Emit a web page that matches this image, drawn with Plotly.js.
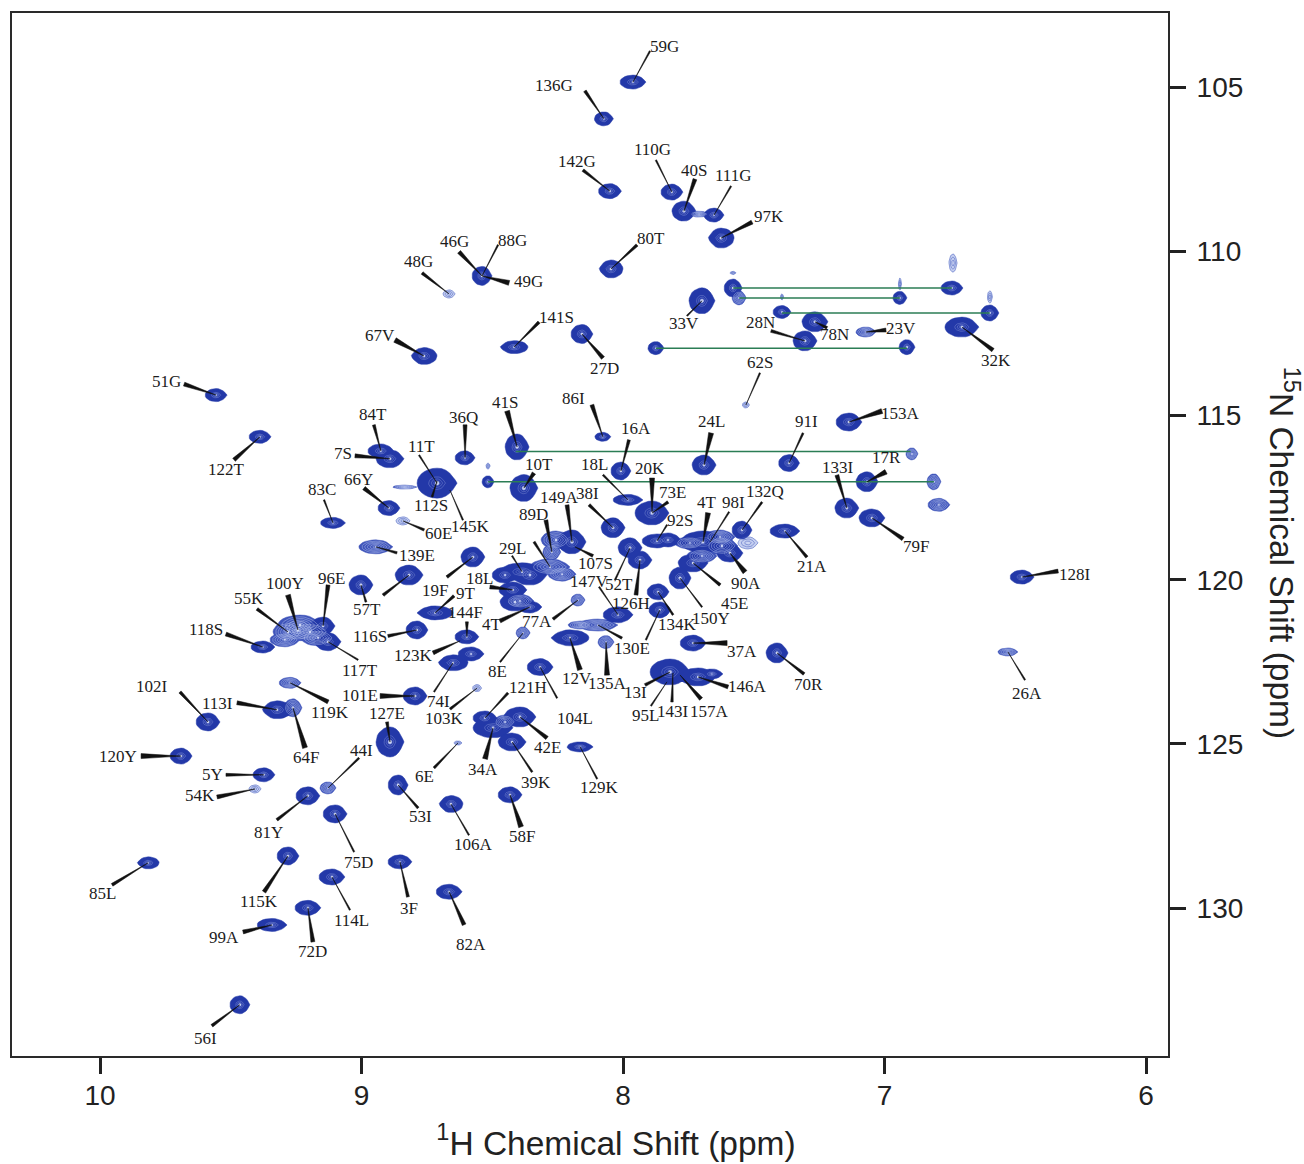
<!DOCTYPE html>
<html><head><meta charset="utf-8">
<script src="https://cdn.plot.ly/plotly-3.0.1.min.js"></script>
<style>html,body{margin:0;padding:0;background:#fff}</style></head>
<body><div id="chart" style="width:1304px;height:1164px"></div>
<script>
// Assigned residues: labels and their chemical shifts
const residue = ['59G','136G','142G','110G','40S','111G','97K','80T','46G','88G','49G','48G','33V','141S','27D','67V','28N','78N','23V','32K','62S','153A','91I','24L','16A','86I','41S','36Q','84T','7S','11T','112S','145K','10T','83C','66Y','60E','139E','19F','57T','','96E','100Y','55K','118S','117T','116S','9T','144F','123K','74I','103K','101E','127E','119K','102I','113I','64F','120Y','5Y','54K','44I','81Y','75D','85L','115K','114L','3F','99A','72D','56I','82A','53I','106A','58F','6E','34A','121H','42E','39K','104L','129K','12V','135A','130E','147V','126H','52T','77A','8E','73E','20K','18L','92S','38I','149A','89D','107S','29L','','18L','4T','4T','98I','132Q','90A','45E','150Y','134K','','37A','70R','21A','13I','95L','143I','157A','146A','133I','17R','79F','128I','26A','122T','51G'];
const shiftH = [7.962,8.073,8.050,7.813,7.767,7.652,7.625,8.046,8.539,8.539,8.539,8.665,7.698,8.417,8.157,8.761,7.304,7.266,7.071,6.704,7.530,7.136,7.365,7.690,8.008,8.077,8.405,8.604,8.926,8.891,8.711,8.711,8.662,8.379,9.109,8.895,8.841,8.945,8.574,9.002,8.818,9.147,9.243,9.281,9.377,9.128,8.788,8.719,8.597,8.623,8.650,8.558,8.795,8.891,9.273,9.587,9.323,9.262,9.690,9.373,9.407,9.128,9.205,9.101,9.816,9.281,9.113,8.853,9.342,9.205,9.465,8.665,8.860,8.658,8.432,8.631,8.497,8.528,8.394,8.424,8.317,8.164,8.203,8.065,8.096,8.019,7.935,7.973,8.172,8.382,7.889,7.889,7.981,7.870,8.038,8.195,8.272,8.184,8.386,8.279,8.421,8.356,7.694,7.667,7.545,7.591,7.732,7.782,7.866,7.859,7.732,7.411,7.381,7.820,7.832,7.809,7.782,7.713,7.144,7.067,7.048,6.474,6.528,9.388,9.556];
const shiftN = [104.85,105.97,108.17,108.20,108.78,108.90,109.60,110.54,110.75,110.75,110.75,111.30,111.51,112.92,112.52,113.19,112.73,112.15,112.46,112.31,114.68,115.20,116.45,116.51,116.69,115.65,115.96,116.29,116.08,116.32,117.06,116.99,117.27,117.21,118.27,117.82,118.21,119.00,119.31,120.16,119.86,121.41,121.53,121.59,122.05,121.89,121.53,121.01,121.74,121.86,122.53,123.30,123.54,124.94,123.14,124.33,123.96,123.90,125.37,125.94,126.37,126.34,126.58,127.13,128.62,128.41,129.05,128.59,130.51,129.99,132.94,129.50,126.25,126.83,126.55,124.97,124.51,124.21,124.18,124.94,122.66,125.09,121.77,121.90,121.38,121.07,119.40,119.03,120.62,121.62,117.97,117.94,117.57,118.82,118.42,118.85,119.16,119.00,119.76,119.61,120.31,120.83,118.85,118.85,118.49,119.19,119.49,119.95,120.37,120.92,121.93,122.23,118.52,122.81,123.11,122.84,122.90,122.96,117.82,117.02,118.12,119.92,122.20,115.65,114.38];

// Unassigned / side-chain / overlapped cross peaks
const extraH = [7.874,6.914,7.392,6.597,7.579,7.556,6.941,6.742,6.738,6.597,6.941,6.895,6.811,6.792,8.516,8.516,7.579,7.392,8.834,8.581,7.629,7.828,7.522,8.164,8.394,8.451,9.197,7.660,9.235,9.166,9.293,7.622,7.698,8.413,8.233,8.256,8.451,7.744,7.709,8.356];
const extraN = [112.95,112.92,111.85,111.88,111.12,111.42,111.42,111.12,110.36,111.39,111.00,116.17,117.02,117.72,117.02,116.54,110.66,111.39,117.18,122.26,118.70,118.79,118.88,121.38,120.65,119.86,121.59,122.87,121.38,121.77,121.83,118.97,119.28,120.68,119.83,118.79,124.33,118.88,108.87,119.86];

// Horizontal NH2 side-chain connectors
const linkN = [111.12,111.42,111.88,112.95,116.10,117.02];
const linkFrom = [7.579,7.556,7.392,7.874,8.410,8.516];
const linkTo = [6.742,6.941,6.597,6.914,6.900,6.811];

// Presentation: blob sizes (px) and tone (0 strong, 1 medium, 2 faint)
const blobW = [26,19,23,22,24,20,26,24,20,0,0,12,26,28,22,26,24,26,20,34,7,26,21,24,20,16,24,20,26,28,40,0,0,28,25,22,14,34,24,24,28,24,34,30,24,26,22,36,24,0,30,9,24,28,22,24,30,18,22,22,12,16,24,24,22,22,26,24,30,26,20,26,20,24,24,8,40,24,32,28,26,26,38,16,40,30,24,24,14,14,34,0,30,30,24,28,18,0,44,40,28,24,44,0,20,26,30,22,22,22,26,22,30,40,0,0,0,36,24,22,26,24,20,22,22];
const blobH = [14,14,15,16,20,14,20,18,19,0,0,8,26,13,19,17,20,20,10,20,6,18,17,20,18,9,26,14,14,18,30,0,0,27,11,15,8,14,20,20,20,18,22,20,12,18,18,14,14,0,16,7,18,30,11,18,18,18,16,14,8,12,18,18,12,18,16,14,13,15,18,15,20,17,16,4,20,14,20,18,17,10,16,13,12,16,18,20,12,12,24,0,11,14,20,24,16,0,18,16,16,12,22,0,18,18,18,22,16,16,16,20,14,26,0,0,0,18,20,20,18,14,8,13,13];
const blobTone = [0,0,0,0,0,0,0,0,0,0,0,2,0,0,0,0,0,0,1,0,2,0,0,0,0,0,0,0,0,0,0,0,0,0,0,0,2,1,0,0,0,0,1,1,0,0,0,0,0,0,0,2,0,0,1,0,0,1,0,0,2,1,0,0,0,0,0,0,0,0,0,0,0,0,0,2,0,0,0,0,0,0,0,1,1,0,0,0,1,1,0,0,0,0,0,0,1,0,0,1,0,0,0,0,0,0,0,0,0,0,0,0,0,0,0,0,0,0,0,0,0,0,1,0,0];
const extraW = [16,16,18,18,18,14,14,22,8,5,3,12,14,22,12,4,6,3,24,26,30,26,20,24,28,26,40,22,44,34,30,32,30,30,28,30,22,30,18,34];
const extraHt = [13,15,13,16,18,14,13,14,18,12,12,12,16,13,12,6,3,6,4,14,14,14,12,8,14,16,18,10,20,16,14,18,14,18,14,18,14,12,6,20];
const extraTone = [0,0,0,0,0,1,0,0,2,2,2,1,1,1,0,2,2,2,1,0,1,0,2,1,1,0,1,0,1,1,1,1,1,0,1,1,1,1,1,0];
const tailsLeft = ['97K','80T','67V','106A','12V','85L','9T','74I','113I','141S'];

// Presentation: label centre and leader end as pixel offsets from the peak
const labelDx = [32,-50,-33,-19,10,19,48,40,-28,30,46,-31,-18,43,23,-44,-45,20,35,34,14,52,17,7,15,-29,-12,-2,-8,-47,-16,-6,21,15,-11,-30,35,41,-38,6,0,8,-13,-39,-57,32,-47,31,-1,-47,-15,-33,-55,-3,40,-56,-60,13,-63,-51,-55,33,-39,23,-46,-29,20,9,-48,5,-34,22,22,23,12,-34,-10,43,28,24,35,19,7,1,34,-29,-9,-11,-41,-26,20,-2,-33,23,-26,-13,-18,21,-10,0,-33,-38,4,23,23,16,41,31,19,0,49,31,27,-35,-21,0,29,49,-9,19,44,53,19,-34,-50];
const labelDy = [-36,-33,-30,-43,-41,-40,-22,-30,-34,-35,6,-32,23,-30,34,-21,-18,13,-4,33,-42,-9,-42,-44,-42,-38,-45,-40,-36,-5,-37,25,36,-24,-33,-29,13,9,33,25,0,-48,-46,-33,-18,29,7,-19,-24,15,39,30,0,-28,30,-35,-6,50,0,0,7,-37,37,49,31,46,44,47,13,44,34,53,31,40,42,34,42,-31,30,41,51,41,41,41,23,-33,43,37,21,39,-21,-44,-35,-20,-34,-44,-38,17,-23,0,-11,18,-39,-39,-39,30,41,40,33,0,8,32,35,20,34,38,37,10,-41,-24,29,-3,42,33,-14];
const tipDx = [17,-19,-27,-16,11,17,31,26,-23,16,27,-27,-15,25,21,-29,-34,12,20,31,14,33,14,7,8,-11,-10,0,-7,-35,-18,-5,13,10,-9,-25,21,21,-26,5,-26,5,-10,-31,-37,30,-29,19,0,-27,-19,-27,-35,-3,38,-28,-40,12,-40,-38,-38,31,-31,19,-36,-24,18,8,-29,5,-28,15,20,18,11,-24,-8,23,27,20,17,17,10,1,24,-19,-4,-15,-25,-23,16,0,-25,10,-24,-5,-6,18,-10,-16,-23,-30,5,19,20,15,27,22,15,-14,34,27,22,-25,-16,-1,21,30,-10,19,31,36,17,-26,-32];
const tipDy = [-31,-28,-21,-32,-32,-29,-16,-24,-24,-31,7,-21,15,-25,24,-16,-10,6,-2,23,-32,-11,-30,-32,-31,-32,-36,-33,-26,-3,-28,16,30,-15,-23,-20,9,6,20,17,20,-41,-35,-23,-13,18,6,-17,-15,12,29,21,0,-20,19,-30,-7,40,0,0,8,-30,24,38,22,36,33,35,7,34,21,33,23,31,32,25,31,-25,21,30,31,32,32,33,13,-28,35,32,19,29,-11,-34,-25,-16,-23,-37,-32,9,-16,-25,-3,14,-29,-30,-28,19,22,29,23,30,0,21,26,13,24,29,24,10,-33,-10,21,-6,28,23,-11];
const tipWidth = [1.5,3,3,1.5,4,1.5,4,3,4,1.5,5,3,1.5,3,4,5,3,3,4,4,1.5,5,2,5,3,4,5,4,3,4,1.5,2,1.5,4,1.5,4,2.5,2.5,3,2,3,4,5,3,4,1.5,3,3,3,4,1.5,2.5,5,3,4,3,4,5,5,3,4,2,3,1.5,3,4,1.5,3,4,4,3,4,2.5,1.5,5,2.5,5,2.5,4,2,1.5,1.5,5,5,2.5,1.5,4,1.5,3,1.5,3,5,2,1.5,3,4,4,3,1.5,2.5,4,4,5,1.5,2,5,3,1.5,2,1.5,5,3,3,3,1.5,2.5,4,4,4,5,4,4,1.5,4,4];

const xRange = [10.3365, 5.916], yRange = [134.50, 102.747];
const plot = {l: 12, t: 13, w: 1156, h: 1043};
const pxPerH = plot.w / (xRange[0] - xRange[1]);
const pxPerN = plot.h / (yRange[0] - yRange[1]);
const ink = '#1c1c1c';
const sansFont = '"Liberation Sans", Arial, sans-serif';

const blobs = [];
residue.forEach((r, i) => { if (blobW[i] > 0) blobs.push({x: shiftH[i], y: shiftN[i], w: blobW[i], h: blobH[i], t: blobTone[i], dir: tailsLeft.includes(r) ? -1 : 1}); });
extraH.forEach((v, i) => blobs.push({x: v, y: extraN[i], w: extraW[i], h: extraHt[i], t: extraTone[i], dir: 1}));

// teardrop outline of a peak at a contour level, through the axis scales
function outline(b, level, X, Y) {
  const steps = 28;
  for (let k = 0; k <= steps; k++) {
    const t = 2 * Math.PI * k / steps, c = Math.cos(t), s = Math.sin(t);
    const sharp = 1 + 0.9 * Math.max(c * b.dir, 0);
    const px = b.w / 2 * level * c;
    const py = b.h / 2 * level * Math.sign(s) * Math.pow(Math.abs(s), sharp);
    X.push(b.x - px / pxPerH); Y.push(b.y + py / pxPerN);
  }
  X.push(null); Y.push(null);
}
const toneStyle = [
  {fill: '#2338a8', levels: [0.42, 0.28, 0.16], stroke: 'rgba(190,202,242,0.45)'},
  {fill: '#3f54ba', levels: [0.82, 0.66, 0.5, 0.34, 0.18], stroke: 'rgba(185,198,240,0.75)'},
  {fill: '#c5cff0', levels: [1, 0.66, 0.33], stroke: 'rgba(70,92,190,0.85)'}
];
const fills = [], contours = [];
[2, 1, 0].forEach(tone => {
  const group = blobs.filter(b => b.t === tone), fx = [], fy = [], cx = [], cy = [];
  group.forEach(b => {
    outline(b, 1, fx, fy);
    toneStyle[tone].levels.forEach(l => outline(b, l, cx, cy));
  });
  fills.push({x: fx, y: fy, type: 'scatter', mode: 'lines', fill: 'toself', fillcolor: toneStyle[tone].fill, hoverinfo: 'skip',
    line: {color: toneStyle[tone].fill, width: 0.5}});
  contours.push({x: cx, y: cy, type: 'scatter', mode: 'lines', hoverinfo: 'skip', line: {color: toneStyle[tone].stroke, width: 0.6}});
});
const centres = {
  x: blobs.map(b => b.x), y: blobs.map(b => b.y), type: 'scatter', mode: 'markers', hoverinfo: 'skip',
  marker: {symbol: 'circle', opacity: 1, size: blobs.map(b => Math.max(1, Math.min(b.w, b.h) * 0.14)), color: 'rgba(210,218,247,0.95)', line: {width: 0}}
};

const linkX = [], linkY = [];
linkN.forEach((n, i) => { linkX.push(linkFrom[i], linkTo[i], null); linkY.push(n, n, null); });
const links = {x: linkX, y: linkY, type: 'scatter', mode: 'lines', hoverinfo: 'skip', connectgaps: false,
  line: {color: '#2b7d55', width: 1.5}};

const wedgeX = [], wedgeY = [];
residue.forEach((r, i) => {
  const dx = tipDx[i], dy = tipDy[i], len = Math.hypot(dx, dy) || 1;
  const nx = -dy / len * tipWidth[i] / 2, ny = dx / len * tipWidth[i] / 2;
  const H = px => shiftH[i] - px / pxPerH, N = py => shiftN[i] + py / pxPerN;
  wedgeX.push(shiftH[i], H(dx + nx), H(dx - nx), shiftH[i], null);
  wedgeY.push(shiftN[i], N(dy + ny), N(dy - ny), shiftN[i], null);
});
const wedges = {x: wedgeX, y: wedgeY, type: 'scatter', mode: 'lines', fill: 'toself', fillcolor: '#111', hoverinfo: 'skip',
  line: {color: '#111', width: 0.5}};

const annotations = [];
residue.forEach((r, i) => {
  if (!r) return;
  annotations.push({x: shiftH[i], y: shiftN[i], xref: 'x', yref: 'y', text: r, showarrow: false,
    xanchor: 'center', yanchor: 'middle', xshift: labelDx[i], yshift: -labelDy[i],
    font: {family: '"Liberation Serif", serif', size: 17, color: ink}});
});

const axisBase = {showgrid: false, zeroline: false, showline: true, mirror: true, linecolor: '#2a2a2a', linewidth: 2,
  ticks: 'outside', ticklen: 16, tickwidth: 3, tickcolor: '#222',
  tickfont: {family: sansFont, size: 28, color: '#222'}};

const gd = document.getElementById('chart');
Plotly.newPlot(gd, [...fills, ...contours, centres, links, wedges], {
  width: 1304, height: 1164, showlegend: false,
  paper_bgcolor: '#fff', plot_bgcolor: '#fff',
  margin: {l: plot.l, t: plot.t, r: 1304 - plot.l - plot.w, b: 1164 - plot.t - plot.h, pad: 0},
  xaxis: Object.assign({}, axisBase, {range: xRange, tick0: 6, dtick: 1, autorange: false, ticklabelstandoff: -3,
    title: {text: '<sup>1</sup>H Chemical Shift (ppm)', font: {family: sansFont, size: 33.5, color: '#222'}}}),
  yaxis: Object.assign({}, axisBase, {range: yRange, tick0: 105, dtick: 5, side: 'right', autorange: false, ticklabelstandoff: 5,
    title: {text: '<sup>15</sup>N Chemical Shift (ppm)', font: {family: sansFont, size: 33.5, color: '#222'}}}),
  annotations
}, {displayModeBar: false, staticPlot: true}).then(() => {
  // the reference reads its right-hand title downward and centres both titles off the plot middle
  const xt = gd.querySelector('.xtitle');
  if (xt) { xt.setAttribute('x', 616); xt.setAttribute('y', 1165); xt.removeAttribute('transform'); }
  const yt = gd.querySelector('.ytitle');
  if (yt) { yt.setAttribute('x', 1252); yt.setAttribute('y', 553); yt.setAttribute('transform', 'rotate(90,1252,553)'); }
});
</script></body></html>
